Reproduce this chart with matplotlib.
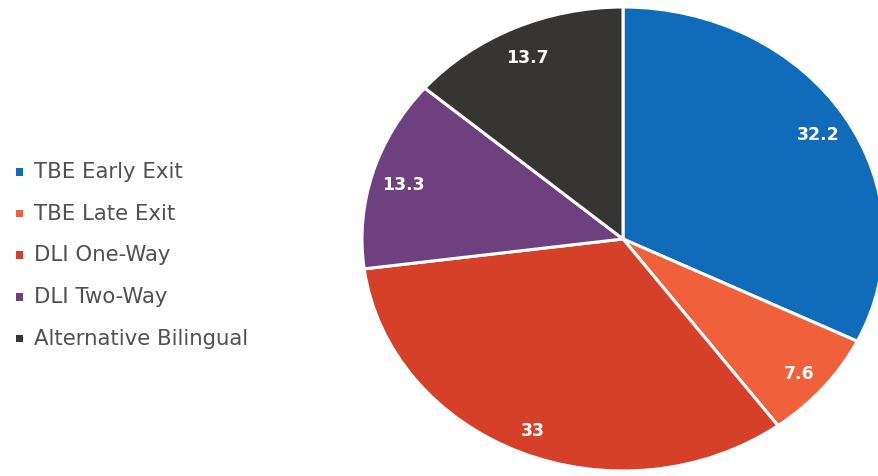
import matplotlib
matplotlib.use("Agg")
import matplotlib.pyplot as plt
from matplotlib.patches import Rectangle

categories = ["TBE Early Exit", "TBE Late Exit", "DLI One-Way", "DLI Two-Way", "Alternative Bilingual"]
values = [32.2, 7.6, 33, 13.3, 13.7]
value_labels = ["32.2", "7.6", "33", "13.3", "13.7"]
colors = ["#106CBA", "#F0603A", "#D63F28", "#6E4080", "#363533"]

W, H = 879, 476
fig = plt.figure(figsize=(W / 100, H / 100), dpi=100)

# Pie area (slightly wider than tall, runs past the right edge)
cx, cy = 623, 239
rx, ry = 261, 232
ax = fig.add_axes([(cx - rx) / W, (H - cy - ry) / H, 2 * rx / W, 2 * ry / H])
wedges, texts = ax.pie(
    values,
    colors=colors,
    startangle=90,
    counterclock=False,
    labels=value_labels,
    labeldistance=0.88,
    wedgeprops=dict(edgecolor="white", linewidth=2.2),
    textprops=dict(color="white", fontsize=12.5, fontweight="bold"),
    normalize=True,
)
for t in texts:
    t.set_horizontalalignment("center")
    t.set_verticalalignment("center")
    x, y = t.get_position()
    t.set_position((x, y - 0.018))
ax.set_aspect("auto")
ax.set_xlim(-1, 1)
ax.set_ylim(-1, 1)
ax.axis("off")

# Legend entries
y0, dy = 172, 41.7
for i, (name, col) in enumerate(zip(categories, colors)):
    y = y0 + i * dy
    fig.patches.append(Rectangle((16 / W, (H - y - 3.5) / H), 7.5 / W, 7.5 / H,
                                 transform=fig.transFigure, facecolor=col,
                                 edgecolor="none"))
    fig.text(34 / W, (H - y) / H, name, fontsize=15.3, color="#505050",
             va="center", ha="left")

fig.savefig("out.png", dpi=100)
